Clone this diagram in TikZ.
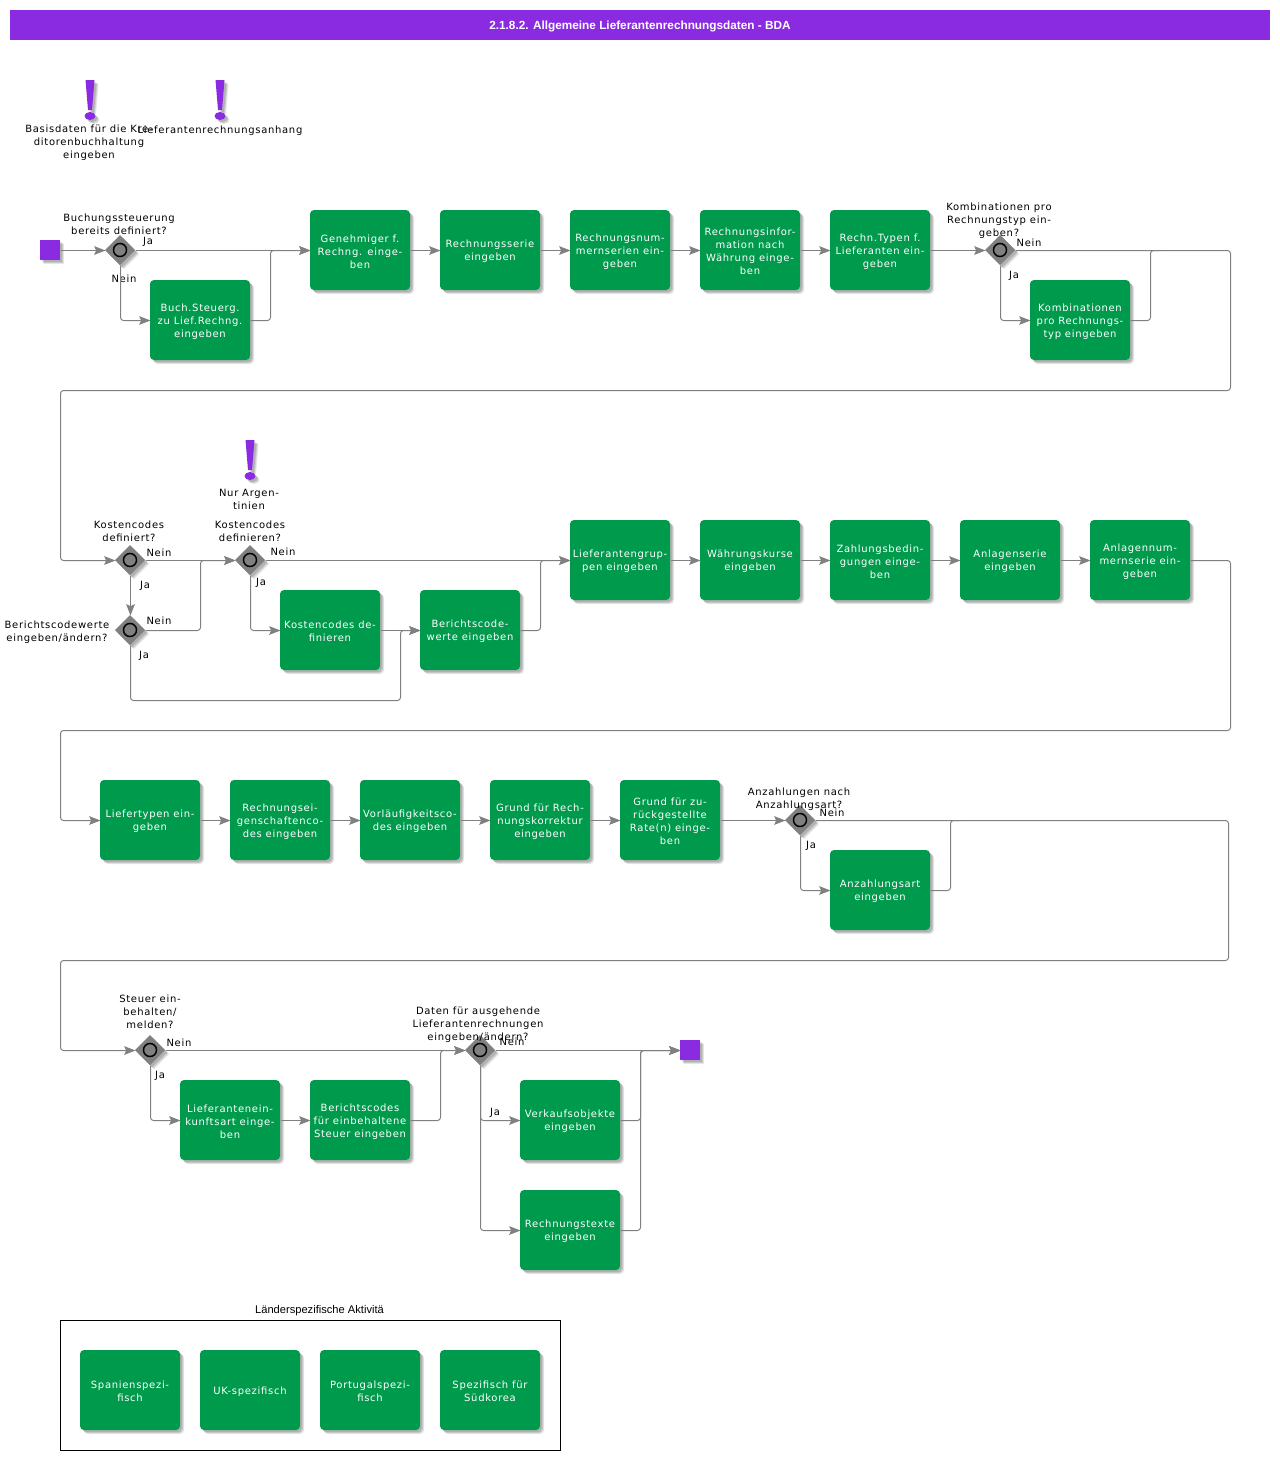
\documentclass[tikz,border=0pt]{standalone}
\usepackage{fontspec}
\setmainfont[LetterSpace=7]{DejaVu Sans}
\newfontfamily\headfont{Liberation Sans}
\usepackage{tikz}
\usetikzlibrary{positioning, shapes.geometric, shadows, arrows.meta}
\definecolor{mypurple}{RGB}{138, 43, 226}
\definecolor{mygreen}{RGB}{0, 154, 76}
\definecolor{mygray}{RGB}{128, 128, 128}

\tikzset{
  softshadow/.style = {
    drop shadow = {shadow xshift = 1.5pt, shadow yshift = -1.5pt, opacity = .12, fill = black},
    drop shadow = {shadow xshift = 2.25pt, shadow yshift = -2.25pt, opacity = .12, fill = black},
    drop shadow = {shadow xshift = 3pt, shadow yshift = -3pt, opacity = .1, fill = black}},
  task/.style = {rectangle, rounded corners = 3pt, fill = mygreen, text = white, align = center, minimum width = 75pt, minimum height = 60pt, inner sep = 0pt, outer sep = 0pt, softshadow, font = \fontsize{7.5}{9.75}\selectfont,
    execute at begin node = {\setbox0=\hbox\bgroup}, execute at end node = {\egroup\vbox{\kern2.2pt\box0}}},
  gate/.style = {diamond, fill = mygray, minimum width = 22.5pt, minimum height = 22.5pt, inner sep = 0pt, outer sep = 0pt, softshadow,
    path picture = {\draw [line width = 1.1pt, fill = mygray] (path picture bounding box.center) circle (4.9pt);}},
  term/.style = {rectangle, fill = mypurple, minimum size = 15pt, inner sep = 0pt, outer sep = 0pt, softshadow},
  note/.style = {align = center, inner sep = 0pt, text = black, font = \fontsize{7.5}{9.75}\selectfont, yshift = -.4pt},
  wire/.style = {draw = mygray, line width = .75pt, rounded corners = 2.25pt, transform canvas = {xshift = .375pt, yshift = -.375pt}},
  flow/.style = {wire, -{Stealth[length = 8.5pt, width = 6.5pt, inset = 1.5pt]}},
  hint/.pic = {
    \fill [mypurple, softshadow] (-4.5, -20) -- (4.5, -20) -- (2, 10) -- (-2, 10) -- cycle;
    \fill [mypurple, softshadow] (0, 16) ellipse (5.5 and 4);
  }
}

\begin{document}
\begin{tikzpicture}[x = .75pt, y = -.75pt, node distance = 22.5pt]
  \path [use as bounding box] (0, 0) rectangle (1280, 1460);

  % header
  \node [fill = mypurple, text = white, minimum width = 945pt, minimum height = 22.5pt, inner sep = 0pt, text height = 6.5pt, text depth = 0pt, font = \headfont\bfseries\fontsize{8.85}{11}\selectfont] (header) at (640, 25) {2.1.8.2. Allgemeine Lieferantenrechnungsdaten - BDA};

  % hints
  \pic at (90, 100) {hint};
  \pic at (220, 100) {hint};
  \pic at (250, 460) {hint};
  \node [note] (hint_kredit) at (89, 142) {Basisdaten für die Kre-\\ditorenbuchhaltung\\eingeben};
  \node [note] (hint_anhang) at (220, 130) {Lieferantenrechnungsanhang};
  \node [note] (hint_arg) at (249, 499) {Nur Argen-\\tinien};

  % row 1
  \node [term] (start) at (50, 250) {};
  \node [gate] (d_steuer) at (120, 250) {};
  \node [task] (buch) at (200, 320) {Buch.Steuerg.\\zu Lief.Rechng.\\eingeben};
  \node [task] (genehm) at (360, 250) {Genehmiger f.\\Rechng. einge-\\ben};
  \node [task][right = of genehm] (serie) {Rechnungsserie\\eingeben};
  \node [task][right = of serie] (nummern) {Rechnungsnum-\\mernserien ein-\\geben};
  \node [task][right = of nummern] (info) {Rechnungsinfor-\\mation nach\\Währung einge-\\ben};
  \node [task][right = of info] (typen) {Rechn.Typen f.\\Lieferanten ein-\\geben};
  \node [gate] (d_kombi) at (1000, 250) {};
  \node [task] (kombi) at (1080, 320) {Kombinationen\\pro Rechnungs-\\typ eingeben};

  % row 2
  \node [gate] (d_kosten) at (130, 560) {};
  \node [gate] (d_werte) at (130, 630) {};
  \node [gate] (d_def) at (250, 560) {};
  \node [task] (kosten) at (330, 630) {Kostencodes de-\\finieren};
  \node [task] [right = 30pt of kosten] (werte) {Berichtscode-\\werte eingeben};
  \node [task] (gruppen) at (620, 560) {Lieferantengrup-\\pen eingeben};
  \node [task][right = of gruppen] (kurse) {Währungskurse\\eingeben};
  \node [task][right = of kurse] (bedingung) {Zahlungsbedin-\\gungen einge-\\ben};
  \node [task][right = of bedingung] (anlage) {Anlagenserie\\eingeben};
  \node [task][right = of anlage] (anlnum) {Anlagennum-\\mernserie ein-\\geben};

  % row 3
  \node [task] (liefertyp) at (150, 820) {Liefertypen ein-\\geben};
  \node [task][right = of liefertyp] (eigen) {Rechnungsei-\\genschaftenco-\\des eingeben};
  \node [task][right = of eigen] (vorl) {Vorläufigkeitsco-\\des eingeben};
  \node [task][right = of vorl] (korr) {Grund für Rech-\\nungskorrektur\\eingeben};
  \node [task][right = of korr] (rate) {Grund für zu-\\rückgestellte\\Rate(n) einge-\\ben};
  \node [gate] (d_anz) at (800, 820) {};
  \node [task] (anz) at (880, 890) {Anzahlungsart\\eingeben};

  % row 4
  \node [gate] (d_einb) at (150, 1050) {};
  \node [task] (herkunft) at (230, 1120) {Lieferantenein-\\kunftsart einge-\\ben};
  \node [task][right = of herkunft] (bercode) {Berichtscodes\\für einbehaltene\\Steuer eingeben};
  \node [gate] (d_aus) at (480, 1050) {};
  \node [task] (verkauf) at (570, 1120) {Verkaufsobjekte\\eingeben};
  \node [task] (texte) at (570, 1230) {Rechnungstexte\\eingeben};
  \node [term] (stop) at (690, 1050) {};

  % country box
  \node [draw, line width = .75pt, minimum width = 375pt, minimum height = 97.5pt, inner sep = 0pt] (land) at (310.5, 1385.5) {};
  \node [note, font = \headfont\fontsize{8.35}{10}\selectfont] (land_titel) at (319.5, 1310) {Länderspezifische Aktivitä};
  \node [task] (spanien) at (130, 1390) {Spanienspezi-\\fisch};
  \node [task] (uk) at (250, 1390) {UK-spezifisch};
  \node [task] (portugal) at (370, 1390) {Portugalspezi-\\fisch};
  \node [task] (korea) at (490, 1390) {Spezifisch für\\Südkorea};

  % gate labels
  \node [note] (q_steuer) at (119, 224) {Buchungssteuerung\\bereits definiert?};
  \node [note] at (148, 241) {Ja};
  \node [note] at (124, 278) {Nein};
  \node [note] (q_kombi) at (999, 220) {Kombinationen pro\\Rechnungstyp ein-\\geben?};
  \node [note] at (1029, 242) {Nein};
  \node [note] at (1014, 275) {Ja};
  \node [note] (q_kosten) at (129, 531) {Kostencodes\\definiert?};
  \node [note] at (159, 552) {Nein};
  \node [note] at (145, 585) {Ja};
  \node [note] (q_def) at (250, 531) {Kostencodes\\definieren?};
  \node [note] at (283, 551) {Nein};
  \node [note] at (261, 582) {Ja};
  \node [note] (q_werte) at (57, 632) {Berichtscodewerte\\eingeben/ändern?};
  \node [note] at (159, 620) {Nein};
  \node [note] at (144, 655) {Ja};
  \node [note] (q_anz) at (799, 799) {Anzahlungen nach\\Anzahlungsart?};
  \node [note] at (832, 812) {Nein};
  \node [note] at (811, 845) {Ja};
  \node [note] (q_einb) at (150, 1011) {Steuer ein-\\behalten/\\melden?};
  \node [note] at (179, 1042) {Nein};
  \node [note] at (160, 1075) {Ja};
  \node [note] (q_aus) at (478, 1024) {Daten für ausgehende\\Lieferantenrechnungen\\eingeben/ändern?};
  \node [note] at (512, 1041) {Nein};
  \node [note] at (495, 1112) {Ja};

  % turning points
  \coordinate (m_gen) at (270, 250);
  \coordinate (m_kombi) at (1150, 250);
  \coordinate (turn_a) at (1230, 390);
  \coordinate (turn_b) at (60, 390);
  \coordinate (m_def) at (200, 560);
  \coordinate (low_a) at (130, 700);
  \coordinate (low_b) at (400, 700);
  \coordinate (m_gruppen) at (540, 560);
  \coordinate (turn_c) at (1230, 730);
  \coordinate (turn_d) at (60, 730);
  \coordinate (m_anz) at (950, 820);
  \coordinate (turn_e) at (1228, 960);
  \coordinate (turn_f) at (60, 960);
  \coordinate (m_aus) at (440, 1050);
  \coordinate (m_stop) at (640, 1050);

  % edges row 1
  \draw [flow] (start) to (d_steuer);
  \draw [flow] (d_steuer) to (genehm);
  \draw [flow] (d_steuer.south) |- (buch.west);
  \draw [flow] (buch.east) -| (m_gen) -- (genehm.west);
  \draw [flow] (genehm) to (serie);
  \draw [flow] (serie) to (nummern);
  \draw [flow] (nummern) to (info);
  \draw [flow] (info) to (typen);
  \draw [flow] (typen) to (d_kombi);
  \draw [flow] (d_kombi.south) |- (kombi.west);
  \draw [wire] (kombi.east) -| (m_kombi) -- ++(10, 0);
  \draw [flow] (d_kombi.east) -| (turn_a) -- (turn_b) |- (d_kosten.west);

  % edges row 2
  \draw [flow] (d_kosten) to (d_def);
  \draw [flow] (d_kosten) to (d_werte);
  \draw [flow] (d_werte.east) -| (m_def) -- (d_def.west);
  \draw [flow] (d_werte.south) -- (low_a) -- (low_b) |- (werte.west);
  \draw [flow] (d_def) to (gruppen);
  \draw [flow] (d_def.south) |- (kosten.west);
  \draw [flow] (kosten) to (werte);
  \draw [flow] (werte.east) -| (m_gruppen) -- (gruppen.west);
  \draw [flow] (gruppen) to (kurse);
  \draw [flow] (kurse) to (bedingung);
  \draw [flow] (bedingung) to (anlage);
  \draw [flow] (anlage) to (anlnum);
  \draw [flow] (anlnum.east) -| (turn_c) -- (turn_d) |- (liefertyp.west);

  % edges row 3
  \draw [flow] (liefertyp) to (eigen);
  \draw [flow] (eigen) to (vorl);
  \draw [flow] (vorl) to (korr);
  \draw [flow] (korr) to (rate);
  \draw [flow] (rate) to (d_anz);
  \draw [flow] (d_anz.south) |- (anz.west);
  \draw [wire] (anz.east) -| (m_anz) -- ++(10, 0);
  \draw [flow] (d_anz.east) -| (turn_e) -- (turn_f) |- (d_einb.west);

  % edges row 4
  \draw [flow] (d_einb) to (d_aus);
  \draw [flow] (d_einb.south) |- (herkunft.west);
  \draw [flow] (herkunft) to (bercode);
  \draw [flow] (bercode.east) -| (m_aus) -- (d_aus.west);
  \draw [flow] (d_aus) to (stop);
  \draw [flow] (d_aus.south) |- (verkauf.west);
  \draw [flow] (d_aus.south) |- (texte.west);
  \draw [flow] (verkauf.east) -| (m_stop) -- (stop.west);
  \draw [flow] (texte.east) -| (m_stop) -- (stop.west);
\end{tikzpicture}
\end{document}
